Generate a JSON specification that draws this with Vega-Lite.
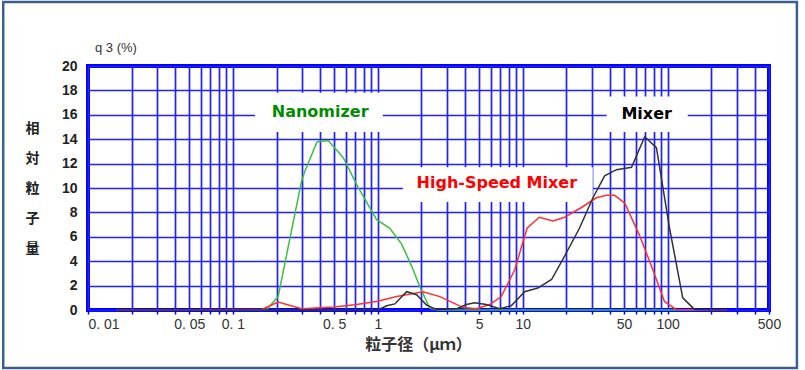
{
  "$schema": "https://vega.github.io/schema/vega-lite/v6.json",
  "width": 681,
  "height": 244,
  "autosize": {"type": "none"},
  "padding": {"left": 88, "top": 66, "right": 36, "bottom": 60},
  "background": "white",
  "title": {"text": "q 3 (%)", "anchor": "start", "frame": "group", "dx": 7, "dy": 64, "offset": 0, "baseline": "alphabetic", "fontSize": 13, "fontWeight": "normal", "font": "Liberation Sans", "color": "#333333"},
  "config": {
    "view": {"stroke": "#0000FF", "strokeWidth": 4},
    "axis": {"labelOverlap": false, "labelBound": false},
    "axisY": {
      "grid": true, "gridColor": "#2020FF", "gridWidth": 1.7,
      "ticks": false, "domain": false, "labelOverlap": false, "labelBound": false, "tickCount": 11,
      "labelFont": "Liberation Sans", "labelFontSize": 14, "labelFontWeight": "bold", "labelColor": "#222222", "labelPadding": 11,
      "titleAngle": 0, "titleX": -56, "titleY": 55, "titleBaseline": "top", "titleAlign": "center",
      "titleLineHeight": 30, "titleFont": "Noto Sans CJK JP", "titleFontSize": 14, "titleFontWeight": "bold", "titleColor": "#222222"
    }
  },
  "datasets": {
    "curves": [
      {"series": "Nanomizer", "size": 0.0158, "q3": 0},
      {"series": "Nanomizer", "size": 0.17, "q3": 0},
      {"series": "Nanomizer", "size": 0.205, "q3": 1.1},
      {"series": "Nanomizer", "size": 0.298, "q3": 10.6},
      {"series": "Nanomizer", "size": 0.314, "q3": 11.4},
      {"series": "Nanomizer", "size": 0.381, "q3": 13.8},
      {"series": "Nanomizer", "size": 0.454, "q3": 13.9},
      {"series": "Nanomizer", "size": 0.576, "q3": 12.5},
      {"series": "Nanomizer", "size": 0.713, "q3": 10.3},
      {"series": "Nanomizer", "size": 0.98, "q3": 7.4},
      {"series": "Nanomizer", "size": 1.21, "q3": 6.7},
      {"series": "Nanomizer", "size": 1.46, "q3": 5.4},
      {"series": "Nanomizer", "size": 1.71, "q3": 3.6},
      {"series": "Nanomizer", "size": 1.95, "q3": 1.9},
      {"series": "Nanomizer", "size": 2.28, "q3": 0.15},
      {"series": "Nanomizer", "size": 2.6, "q3": 0},
      {"series": "Nanomizer", "size": 255, "q3": 0},
      {"series": "High-Speed Mixer", "size": 0.0158, "q3": 0},
      {"series": "High-Speed Mixer", "size": 0.158, "q3": 0.05},
      {"series": "High-Speed Mixer", "size": 0.205, "q3": 0.65},
      {"series": "High-Speed Mixer", "size": 0.298, "q3": 0.1},
      {"series": "High-Speed Mixer", "size": 0.5, "q3": 0.25},
      {"series": "High-Speed Mixer", "size": 0.713, "q3": 0.45},
      {"series": "High-Speed Mixer", "size": 0.98, "q3": 0.7},
      {"series": "High-Speed Mixer", "size": 1.35, "q3": 1.1},
      {"series": "High-Speed Mixer", "size": 2.05, "q3": 1.5},
      {"series": "High-Speed Mixer", "size": 2.68, "q3": 1.1},
      {"series": "High-Speed Mixer", "size": 3.88, "q3": 0.2},
      {"series": "High-Speed Mixer", "size": 4.79, "q3": 0.1},
      {"series": "High-Speed Mixer", "size": 5.92, "q3": 0.45},
      {"series": "High-Speed Mixer", "size": 7.1, "q3": 1.1},
      {"series": "High-Speed Mixer", "size": 8.8, "q3": 3.3},
      {"series": "High-Speed Mixer", "size": 10.7, "q3": 6.7},
      {"series": "High-Speed Mixer", "size": 13.0, "q3": 7.6},
      {"series": "High-Speed Mixer", "size": 16.2, "q3": 7.3},
      {"series": "High-Speed Mixer", "size": 19.4, "q3": 7.6},
      {"series": "High-Speed Mixer", "size": 24.6, "q3": 8.3},
      {"series": "High-Speed Mixer", "size": 32.2, "q3": 9.2},
      {"series": "High-Speed Mixer", "size": 37.7, "q3": 9.4},
      {"series": "High-Speed Mixer", "size": 43.1, "q3": 9.4},
      {"series": "High-Speed Mixer", "size": 50.6, "q3": 8.75},
      {"series": "High-Speed Mixer", "size": 64, "q3": 6.1},
      {"series": "High-Speed Mixer", "size": 79, "q3": 3.3},
      {"series": "High-Speed Mixer", "size": 95, "q3": 0.7},
      {"series": "High-Speed Mixer", "size": 114, "q3": 0.05},
      {"series": "High-Speed Mixer", "size": 255, "q3": 0},
      {"series": "Mixer", "size": 0.0158, "q3": 0},
      {"series": "Mixer", "size": 1.0, "q3": 0},
      {"series": "Mixer", "size": 1.15, "q3": 0.35},
      {"series": "Mixer", "size": 1.31, "q3": 0.5},
      {"series": "Mixer", "size": 1.58, "q3": 1.5},
      {"series": "Mixer", "size": 1.85, "q3": 1.25},
      {"series": "Mixer", "size": 2.17, "q3": 0.4},
      {"series": "Mixer", "size": 2.54, "q3": 0.05},
      {"series": "Mixer", "size": 3.5, "q3": 0.1},
      {"series": "Mixer", "size": 4.08, "q3": 0.45},
      {"series": "Mixer", "size": 4.66, "q3": 0.6},
      {"series": "Mixer", "size": 5.6, "q3": 0.45},
      {"series": "Mixer", "size": 6.93, "q3": 0.1},
      {"series": "Mixer", "size": 8.32, "q3": 0.35},
      {"series": "Mixer", "size": 10.3, "q3": 1.5},
      {"series": "Mixer", "size": 12.7, "q3": 1.8},
      {"series": "Mixer", "size": 15.8, "q3": 2.5},
      {"series": "Mixer", "size": 19.4, "q3": 4.4},
      {"series": "Mixer", "size": 24.6, "q3": 6.7},
      {"series": "Mixer", "size": 30.5, "q3": 9.2},
      {"series": "Mixer", "size": 36.7, "q3": 11.0},
      {"series": "Mixer", "size": 44.3, "q3": 11.5},
      {"series": "Mixer", "size": 56.3, "q3": 11.7},
      {"series": "Mixer", "size": 69.4, "q3": 14.2},
      {"series": "Mixer", "size": 83.6, "q3": 13.3},
      {"series": "Mixer", "size": 103, "q3": 6.7},
      {"series": "Mixer", "size": 127, "q3": 1.0},
      {"series": "Mixer", "size": 153, "q3": 0.05},
      {"series": "Mixer", "size": 255, "q3": 0}
    ],
    "labels": [
      {"label": "Nanomizer", "size": 0.40, "q3": 16.2, "size_lo": 0.142, "size_hi": 1.083, "q3_lo": 14.6, "q3_hi": 17.8},
      {"label": "High-Speed Mixer", "size": 6.62, "q3": 10.4, "size_lo": 1.49, "size_hi": 30.4, "q3_lo": 8.85, "q3_hi": 11.7},
      {"label": "Mixer", "size": 71.6, "q3": 16.1, "size_lo": 37.9, "size_hi": 137.4, "q3_lo": 14.6, "q3_hi": 17.5}
    ]
  },
  "layer": [
    {
      "data": {"values": [{}]},
      "mark": {"type": "rect", "fill": null, "stroke": "#3D5E8E", "strokeWidth": 2.5, "clip": false},
      "encoding": {
        "x": {"datum": 0.0026, "type": "quantitative"},
        "x2": {"datum": 779},
        "y": {"datum": 25.25, "type": "quantitative", "axis": {"values": [0,2,4,6,8,10,12,14,16,18,20], "labelOverlap": false, "title": ["相", "対", "粒", "子", "量"]}},
        "y2": {"datum": -4.75}
      }
    },
    {
      "data": {"name": "labels"},
      "mark": {"type": "rect", "fill": "white", "stroke": null},
      "encoding": {
        "x": {"field": "size_lo", "type": "quantitative"},
        "x2": {"field": "size_hi"},
        "y": {"field": "q3_lo", "type": "quantitative", "axis": {"values": [0,2,4,6,8,10,12,14,16,18,20], "labelOverlap": false, "title": ["相", "対", "粒", "子", "量"]}},
        "y2": {"field": "q3_hi"}
      }
    },
    {
      "data": {"name": "curves"},
      "mark": {"type": "line", "strokeWidth": 1.5},
      "encoding": {
        "x": {
          "field": "size", "type": "quantitative",
          "scale": {"type": "log", "domain": [0.01, 500], "nice": false},
          "axis": {
            "values": [0.01,0.02,0.03,0.04,0.05,0.06,0.07,0.08,0.09,0.1,0.2,0.3,0.4,0.5,0.6,0.7,0.8,0.9,1,2,3,4,5,6,7,8,9,10,20,30,40,50,60,70,80,90,100,200,300,400,500],
            "labelExpr": "datum.value == 0.01 ? '0. 01' : datum.value == 0.05 ? '0. 05' : datum.value == 0.1 ? '0. 1' : datum.value == 0.5 ? '0. 5' : (datum.value == 1 || datum.value == 5 || datum.value == 10 || datum.value == 50 || datum.value == 100 || datum.value == 500) ? format(datum.value, 'd') : ''",
            "grid": true, "gridColor": "#2020FF", "gridWidth": 1.7,
            "domain": false,
            "tickColor": "#0000FF", "tickSize": 4, "tickWidth": 1.5,
            "labelFont": "Liberation Sans", "labelFontSize": 14, "labelColor": "#333333", "labelPadding": 3,
            "labelOverlap": false, "labelBound": false, "labelFlush": false,
            "labelAlign": {"condition": {"test": "datum.value < 0.011", "value": "left"}, "value": "center"},
            "title": "粒子径（μｍ）", "titleFont": "Noto Sans CJK JP", "titleFontSize": 16, "titleFontWeight": "bold", "titleColor": "#333333",
            "titleX": 330, "titleY": 34, "titleBaseline": "middle", "titleAlign": "center"
          }
        },
        "y": {
          "field": "q3", "type": "quantitative",
          "scale": {"domain": [0, 20], "nice": false},
          "axis": {"values": [0,2,4,6,8,10,12,14,16,18,20], "labelOverlap": false, "title": ["相", "対", "粒", "子", "量"]}
        },
        "color": {
          "field": "series", "type": "nominal",
          "scale": {"domain": ["Nanomizer", "High-Speed Mixer", "Mixer"], "range": ["#3DBF3D", "#FF3030", "#333333"]},
          "legend": null
        }
      }
    },
    {
      "data": {"name": "labels"},
      "mark": {"type": "text", "font": "DejaVu Sans", "fontSize": 16, "fontWeight": "bold", "align": "center", "baseline": "middle"},
      "encoding": {
        "x": {"field": "size", "type": "quantitative"},
        "y": {"field": "q3", "type": "quantitative", "axis": {"values": [0,2,4,6,8,10,12,14,16,18,20], "labelOverlap": false, "title": ["相", "対", "粒", "子", "量"]}},
        "text": {"field": "label"},
        "color": {
          "field": "label", "type": "nominal",
          "scale": {"domain": ["Nanomizer", "High-Speed Mixer", "Mixer"], "range": ["#008C00", "#FF0000", "#000000"]},
          "legend": null
        }
      }
    }
  ],
  "resolve": {"scale": {"color": "independent"}}
}
